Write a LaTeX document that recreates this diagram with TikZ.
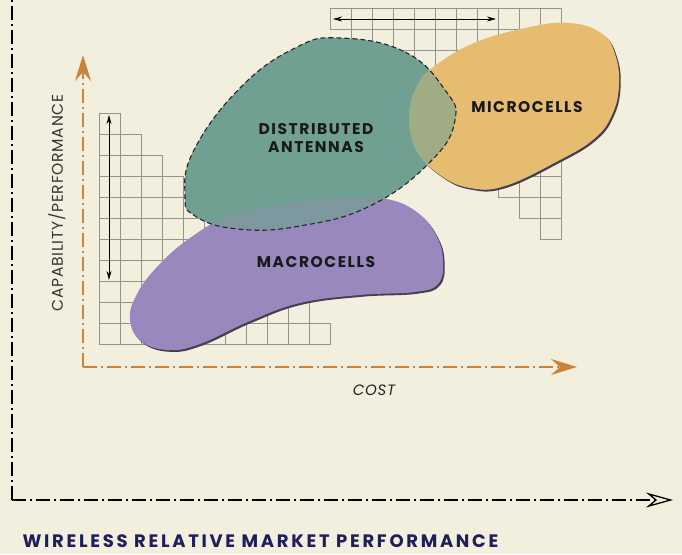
\documentclass[tikz,border=0pt]{standalone}
\usepackage{fontspec}
\setmainfont{Poppins}
\newfontfamily\blobfont{Poppins}[LetterSpace=10]
\newfontfamily\titlefont{Poppins}[LetterSpace=15]
\newfontfamily\axisfont{Poppins}[LetterSpace=5]
\usetikzlibrary{arrows.meta}

\definecolor{paper}{RGB}{243,239,222}
\definecolor{tealblob}{RGB}{112,160,146}
\definecolor{purpleblob}{RGB}{152,136,190}
\definecolor{microblob}{RGB}{230,188,112}
\definecolor{tealpurple}{RGB}{126,152,160}
\definecolor{tealmicro}{RGB}{160,172,132}
\definecolor{axisorange}{RGB}{200,132,58}
\definecolor{gridgray}{RGB}{150,148,138}
\definecolor{navy}{RGB}{30,30,90}
\definecolor{blobshadow}{RGB}{70,62,80}

% blob outlines (pixel units, y down)
\newcommand\distpath{plot[smooth cycle, tension=0.75] coordinates
  {(340,38) (405,52) (445,90) (455,120) (432,160) (372,205) (300,226) (238,229) (195,216) (185,195) (194,150) (240,88) (295,48)}}
\newcommand\macropath{plot[smooth cycle, tension=0.7] coordinates
  {(387,199) (418,213) (437,237) (443,262) (438,284) (415,292) (360,295) (300,303) (250,321) (200,344) (168,350) (141,341) (130,320) (136,296) (156,268) (190,238) (232,215) (290,203) (345,198)}}
\newcommand\micropath{plot[smooth cycle, tension=0.7] coordinates
  {(432,68) (474,43) (530,27) (570,23) (601,33) (615,54) (619,85) (612,115) (594,139) (558,161) (505,186) (470,188) (440,175) (416,150) (409,115) (417,86)}}

\tikzset{
  gridline/.style={draw=gridgray, line width=0.7pt},
  dashdot/.style={dash pattern=on 14pt off 4pt on 2pt off 4pt},
  bigaxis/.style={line width=1.3pt, dashdot, -{Stealth[length=27pt, width=15pt, inset=9pt, open]}},
  costaxis/.style={axisorange, line width=1.5pt, dashdot, -{Stealth[length=26pt, width=16pt, inset=9pt]}},
  spanarrow/.style={line width=0.9pt, {Stealth[length=9pt, width=5pt]}-{Stealth[length=9pt, width=5pt]}},
  bloblabel/.style={font=\blobfont\bfseries\fontsize{15.5}{19}\selectfont, align=center, text=black!90}
}

\begin{document}
\begin{tikzpicture}[x=1pt, y=-1pt]
    \fill[paper] (0,0) rectangle (682,554);
    \useasboundingbox (0,0) rectangle (682,554);

    % Staircase grids
    \foreach \c in {0,...,10}
      \foreach \r in {\c,...,10}
        \draw[gridline] (99+21*\c, 113+21*\r) rectangle ++(21,21);
    \foreach \c in {0,...,10}
      \foreach \r in {0,...,\c}
        \draw[gridline] (330+21*\c, 8+21*\r) rectangle ++(21,21);

    % Span arrows on the grids
    \coordinate (spantop) at (109,115);
    \coordinate (spanbot) at (109,280);
    \draw[spanarrow] (spantop) -- (spanbot);
    \coordinate (spanleft) at (333,19);
    \coordinate (spanright) at (496,19);
    \draw[spanarrow] (spanleft) -- (spanright);

    % Macrocells and microcells
    \fill[blobshadow, shift={(1.6,1.8)}] \macropath;
    \fill[purpleblob] \macropath;
    \fill[blobshadow, shift={(1.6,1.8)}] \micropath;
    \fill[microblob] \micropath;

    % Distributed antennas, with its overlaps
    \fill[tealblob] \distpath;
    \begin{scope}
      \clip \distpath;
      \fill[tealpurple] \macropath;
      \fill[tealmicro] \micropath;
    \end{scope}
    \draw[black!85, line width=1.1pt, dash pattern=on 5pt off 3pt] \distpath;

    % Labels
    \node[bloblabel] (dist) at (316,138) {DISTRIBUTED\\[-1pt]ANTENNAS};
    \node[bloblabel] (micro) at (527,107) {MICROCELLS};
    \node[bloblabel] (macro) at (316,262) {MACROCELLS};

    % Cost / capability axes
    \coordinate (origin) at (83,367);
    \coordinate (captip) at (83,55);
    \coordinate (costtip) at (577,367);
    \draw[costaxis] (origin) -- (captip);
    \draw[costaxis] (origin) -- (costtip);
    \node[font=\axisfont\itshape\fontsize{15}{18}\selectfont, text=black!85] (cost) at (374,390) {COST};
    \node[font=\axisfont\fontsize{15.5}{18}\selectfont, text=black!80, rotate=90] (cap) at (57,203) {CAPABILITY/PERFORMANCE};

    % Market axes
    \coordinate (corner) at (12,500);
    \coordinate (top) at (12,0);
    \coordinate (markettip) at (673,500);
    \draw[line width=1.3pt, dashdot] (corner) -- (top);
    \draw[bigaxis] (corner) -- (markettip);

    \node[font=\titlefont\bfseries\fontsize{18}{22}\selectfont, text=navy, anchor=west] (title) at (19,541) {WIRELESS RELATIVE MARKET PERFORMANCE};
\end{tikzpicture}
\end{document}
